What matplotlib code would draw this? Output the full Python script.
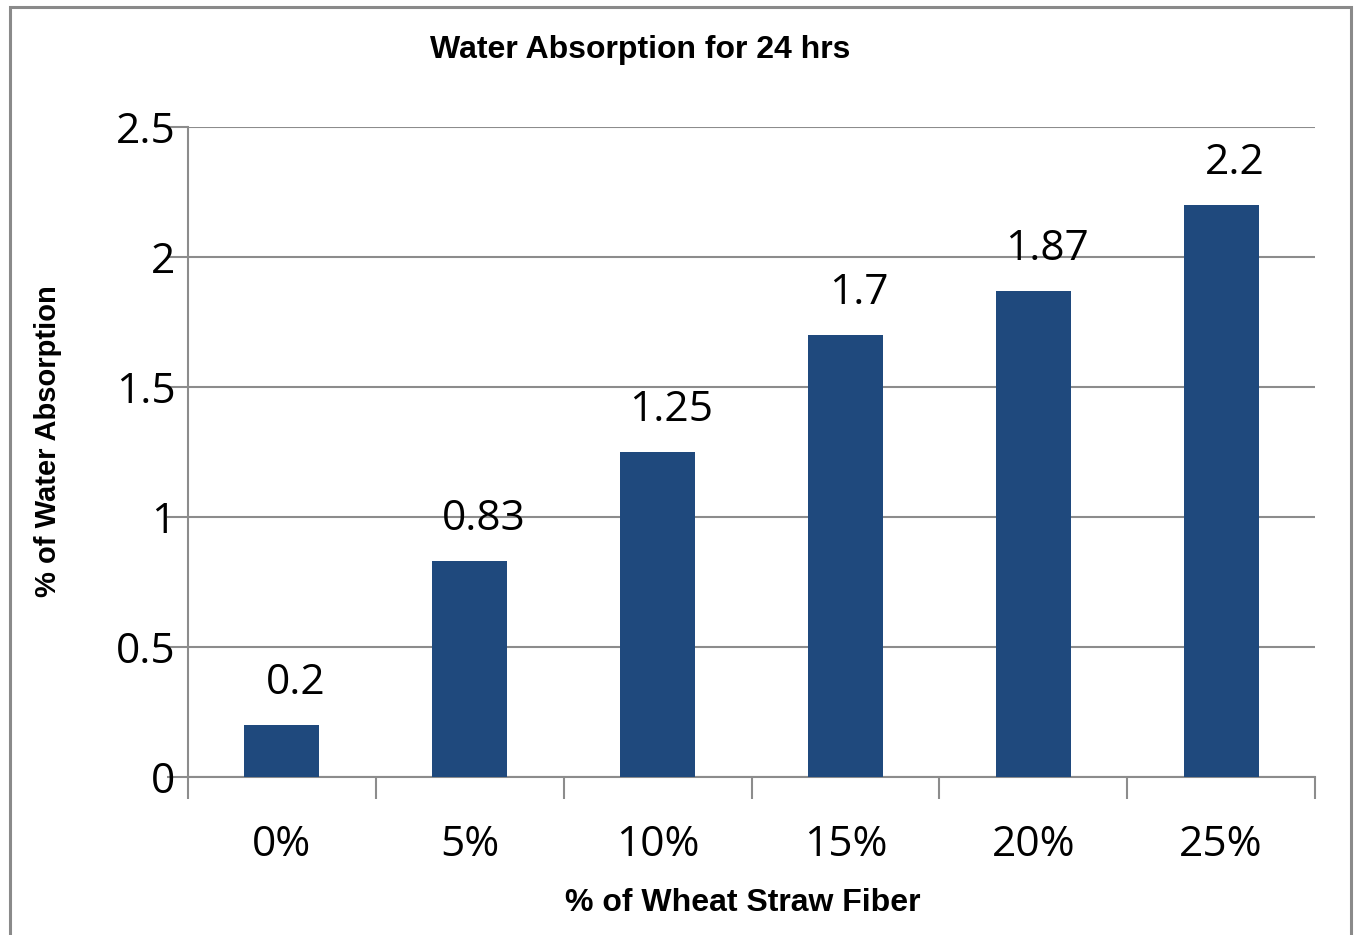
import matplotlib
matplotlib.use("Agg")
import matplotlib.pyplot as plt
from matplotlib.patches import Rectangle
from matplotlib.ticker import FixedLocator, NullFormatter
import numpy as np

categories = ["0%", "5%", "10%", "15%", "20%", "25%"]
values = [0.2, 0.83, 1.25, 1.7, 1.87, 2.2]
value_labels = ["0.2", "0.83", "1.25", "1.7", "1.87", "2.2"]
yticks = [0, 0.5, 1, 1.5, 2, 2.5]
ytick_labels = ["0", "0.5", "1", "1.5", "2", "2.5"]

title = "Water Absorption for 24 hrs"
xlabel = "% of Wheat Straw Fiber"
ylabel = "% of Water Absorption"

bar_color = "#1F497D"
grid_color = "#8C8C8C"
num_font = "Open Sans"
lab_font = "Liberation Sans"
num_size = 30.5

fig = plt.figure(figsize=(13.58, 9.35), dpi=100)
fig.patch.set_facecolor("white")

# outer chart border
fig.patches.append(Rectangle((10 / 1358, -0.02), 1341 / 1358, 1 - 7 / 935 + 0.02,
                             transform=fig.transFigure, fill=False,
                             edgecolor="#8A8A8A", linewidth=2.2, zorder=0))

ax = fig.add_axes([188 / 1358, 1 - 777 / 935, (1315 - 188) / 1358, (777 - 127) / 935])

x = np.arange(len(categories))
ax.bar(x, values, width=0.4, color=bar_color, zorder=3)

ax.set_xlim(-0.5, len(categories) - 0.5)
ax.set_ylim(0, 2.5)

# grid
ax.set_yticks(yticks)
ax.set_yticklabels(ytick_labels, fontfamily=num_font, fontsize=num_size)
ax.yaxis.grid(True, color=grid_color, linewidth=1.5, zorder=0)
ax.tick_params(axis="y", which="major", length=15, width=1.5, color=grid_color, pad=-6)

# x ticks at category boundaries, labels at centres
ax.xaxis.set_major_locator(FixedLocator(np.arange(-0.5, len(categories), 1.0)))
ax.xaxis.set_major_formatter(NullFormatter())
ax.xaxis.set_minor_locator(FixedLocator(x))
ax.set_xticklabels(categories, minor=True, fontfamily=num_font, fontsize=num_size)
ax.tick_params(axis="x", which="major", length=16, width=1.5, color=grid_color)
ax.tick_params(axis="x", which="minor", length=0, pad=34)

for s in ["top", "right"]:
    ax.spines[s].set_visible(False)
for s in ["left", "bottom"]:
    ax.spines[s].set_color(grid_color)
    ax.spines[s].set_linewidth(1.5)

# value labels
for xi, v, lab in zip(x, values, value_labels):
    ax.annotate(lab, (xi, v), xytext=(10, 15), textcoords="offset points",
                ha="center", va="bottom", fontfamily=num_font, fontsize=num_size)

fig.text(640 / 1358, 1 - 50 / 935, title, ha="center", va="center",
         fontfamily=lab_font, fontweight="bold", fontsize=23)
fig.text(743 / 1358, 1 - 903 / 935, xlabel, ha="center", va="center",
         fontfamily=lab_font, fontweight="bold", fontsize=23)
fig.text(48 / 1358, 1 - 441 / 935, ylabel, ha="center", va="center", rotation=90,
         fontfamily=lab_font, fontweight="bold", fontsize=21)

fig.savefig("out.png", dpi=100)
